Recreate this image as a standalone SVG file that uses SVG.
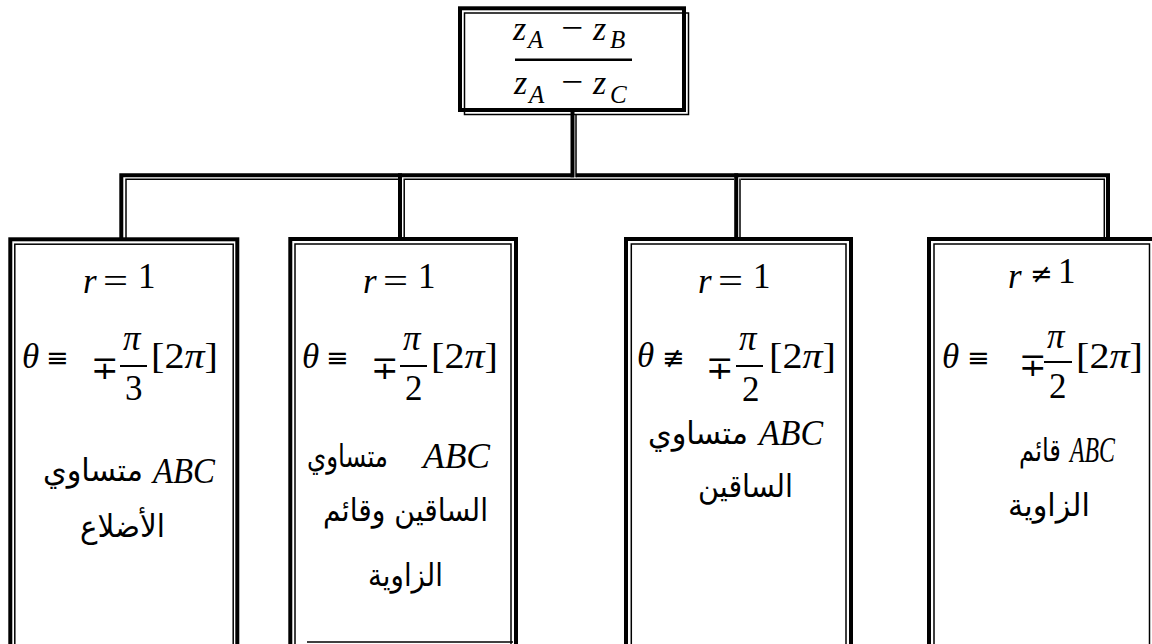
<svg xmlns="http://www.w3.org/2000/svg" width="1152" height="644" viewBox="0 0 1152 644">
<style>
.thick{stroke:#000;stroke-width:4;fill:none}
.thin{stroke:#000;stroke-width:1.5;fill:none}
.bar{stroke:#000;stroke-width:2}
.m{font-family:"Liberation Serif","DejaVu Serif",serif;font-size:35px;fill:#000}
.i{font-style:italic}
.op{font-family:"DejaVu Sans",sans-serif;font-size:27px;fill:#000}
.pm{font-family:"DejaVu Serif",serif;font-size:33px;fill:#000}
.f{font-family:"Liberation Serif","DejaVu Serif",serif;font-size:34px;fill:#000}
.s{font-family:"Liberation Serif","DejaVu Serif",serif;font-size:25px;font-style:italic;fill:#000}
.ar{font-family:"DejaVu Sans","Noto Sans",sans-serif;font-size:31px;fill:#000;text-anchor:middle}
</style>
<rect width="1152" height="644" fill="#fff"/>

<g id="connectors">
<path class="thick" d="M121.3 239 V175.3 H574"/>
<path class="thick" d="M576 175.3 H1108 V239"/>
<path class="thick" d="M572.5 110 V177.3"/>
<path class="thin" d="M576 114.5 V177.3"/>
<path class="thin" d="M126 239 V179.3 H398"/>
<path class="thin" d="M405 179.3 H734"/>
<path class="thin" d="M741 179.3 H1104.3 V239"/>
<path class="thick" d="M400 173.3 V239"/>
<path class="thin" d="M404.2 178.6 V239"/>
<path class="thick" d="M736.2 173.3 V239"/>
<path class="thin" d="M740 178.6 V239"/>
</g>

<g id="top">
<rect class="thick" x="460" y="8.3" width="224" height="101.7"/>
<rect class="thin" x="464.5" y="13" width="224" height="101.5"/>
<text class="f i" x="513" y="40">z</text><text class="s" x="528" y="48">A</text>
<text class="f" x="561" y="39" textLength="22" lengthAdjust="spacingAndGlyphs">−</text>
<text class="f i" x="593" y="40">z</text><text class="s" x="610" y="48">B</text>
<line class="bar" x1="515" y1="59.7" x2="632" y2="59.7" style="stroke-width:2.6"/>
<text class="f i" x="514" y="94">z</text><text class="s" x="529" y="103">A</text>
<text class="f" x="561" y="93" textLength="22" lengthAdjust="spacingAndGlyphs">−</text>
<text class="f i" x="593" y="94">z</text><text class="s" x="610" y="103">C</text>
</g>

<g id="box1">
<rect class="thick" x="10.3" y="239.3" width="227" height="500"/>
<rect class="thin" x="14.8" y="244.2" width="218.4" height="500"/>
<text class="m i" x="83" y="293">r</text>
<text class="m" x="103" y="293" textLength="25" lengthAdjust="spacingAndGlyphs">=</text>
<text class="m" x="138" y="288">1</text>
<text class="m i" x="22" y="368">θ</text>
<text class="op" x="46" y="367">≡</text>
<text class="pm" x="91" y="379">∓</text>
<text class="m i" x="123" y="350">π</text>
<line class="bar" x1="120" y1="366" x2="147" y2="366"/>
<text class="m" x="125" y="400">3</text>
<text class="m" x="151" y="368" textLength="67" lengthAdjust="spacingAndGlyphs">[2<tspan class="i">π</tspan>]</text>
<text class="m i" x="153" y="483" textLength="62" lengthAdjust="spacingAndGlyphs">ABC</text>
<text class="ar" x="93" y="481" textLength="100" lengthAdjust="spacingAndGlyphs">متساوي</text>
<text class="ar" x="122.5" y="537" textLength="85" lengthAdjust="spacingAndGlyphs">الأضلاع</text>
</g>

<g id="box2">
<rect class="thick" x="290.3" y="239" width="225.7" height="500"/>
<rect class="thin" x="295" y="244" width="216" height="500"/>
<line class="thin" x1="307" y1="642" x2="513" y2="642"/>
<text class="m i" x="363" y="293">r</text>
<text class="m" x="383" y="293" textLength="25" lengthAdjust="spacingAndGlyphs">=</text>
<text class="m" x="418" y="288">1</text>
<text class="m i" x="302" y="368">θ</text>
<text class="op" x="326" y="367">≡</text>
<text class="pm" x="371" y="379">∓</text>
<text class="m i" x="403" y="350">π</text>
<line class="bar" x1="400" y1="366" x2="427" y2="366"/>
<text class="m" x="405" y="400">2</text>
<text class="m" x="431" y="368" textLength="67" lengthAdjust="spacingAndGlyphs">[2<tspan class="i">π</tspan>]</text>
<text class="m i" x="423" y="468" textLength="67" lengthAdjust="spacingAndGlyphs">ABC</text>
<text class="ar" x="347.5" y="467" textLength="81" lengthAdjust="spacingAndGlyphs">متساوي</text>
<text class="ar" x="405.5" y="521" textLength="165" lengthAdjust="spacingAndGlyphs">الساقين وقائم</text>
<text class="ar" x="405.5" y="586" textLength="75" lengthAdjust="spacingAndGlyphs">الزاوية</text>
</g>

<g id="box3">
<rect class="thick" x="626" y="239" width="225" height="500"/>
<rect class="thin" x="631.3" y="244" width="214.7" height="500"/>
<text class="m i" x="698" y="293">r</text>
<text class="m" x="718" y="293" textLength="25" lengthAdjust="spacingAndGlyphs">=</text>
<text class="m" x="753" y="288">1</text>
<text class="m i" x="637" y="367">θ</text>
<text class="op" x="662" y="367">≢</text>
<text class="pm" x="706" y="379">∓</text>
<text class="m i" x="739" y="350">π</text>
<line class="bar" x1="736" y1="366" x2="763" y2="366"/>
<text class="m" x="742" y="401">2</text>
<text class="m" x="769" y="368" textLength="67" lengthAdjust="spacingAndGlyphs">[2<tspan class="i">π</tspan>]</text>
<text class="m i" x="759" y="445" textLength="64" lengthAdjust="spacingAndGlyphs">ABC</text>
<text class="ar" x="698" y="444" textLength="100" lengthAdjust="spacingAndGlyphs">متساوي</text>
<text class="ar" x="745.5" y="497" textLength="95" lengthAdjust="spacingAndGlyphs">الساقين</text>
</g>

<g id="box4">
<rect class="thick" x="929" y="239" width="225" height="500"/>
<rect class="thin" x="934" y="244" width="215.5" height="500"/>
<text class="m i" x="1008" y="288">r</text>
<text class="op" x="1030" y="283">≠</text>
<text class="m" x="1058" y="283">1</text>
<text class="m i" x="942" y="368">θ</text>
<text class="op" x="967" y="367">≡</text>
<text class="pm" x="1019" y="376">∓</text>
<text class="m i" x="1047" y="348">π</text>
<line class="bar" x1="1044" y1="362" x2="1072" y2="362"/>
<text class="m" x="1049" y="398">2</text>
<text class="m" x="1076" y="368" textLength="67" lengthAdjust="spacingAndGlyphs">[2<tspan class="i">π</tspan>]</text>
<text class="m i" x="1070" y="462" textLength="45" lengthAdjust="spacingAndGlyphs">ABC</text>
<text class="ar" x="1040" y="461" textLength="42" lengthAdjust="spacingAndGlyphs">قائم</text>
<text class="ar" x="1049" y="516" textLength="82" lengthAdjust="spacingAndGlyphs">الزاوية</text>
</g>
</svg>
